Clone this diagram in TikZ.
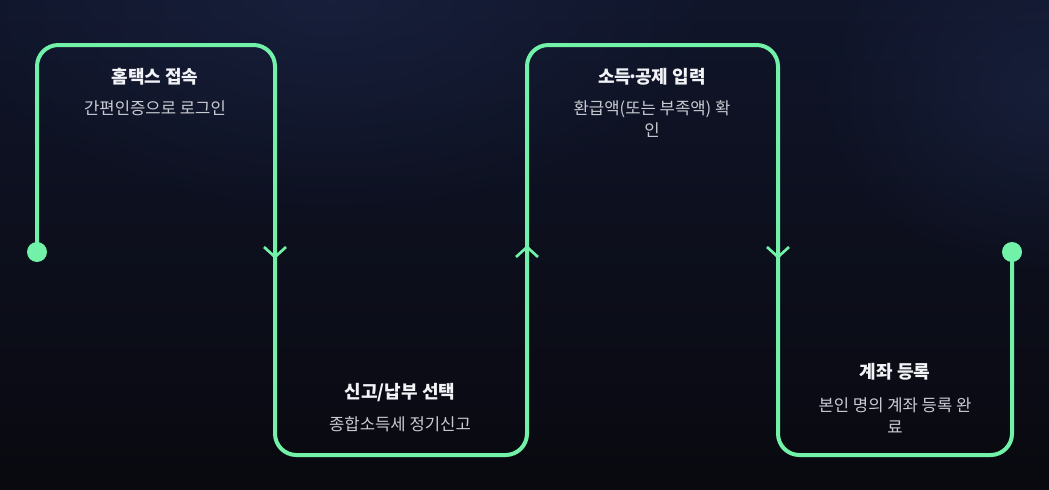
\documentclass[tikz,border=0pt]{standalone}
\usepackage{fontspec}
\newfontfamily\kr{Noto Sans CJK KR}
\usetikzlibrary{fadings}
\definecolor{flowgreen}{HTML}{72F2A9}
\definecolor{bgtop}{HTML}{10152A}
\definecolor{bgbot}{HTML}{09090F}
\definecolor{glow}{HTML}{1C2646}
\definecolor{titlecol}{HTML}{F2F3F7}
\definecolor{subcol}{HTML}{C9CBD2}
\tikzfading[name=glowfade, inner color=transparent!40, outer color=transparent!100]
\begin{document}
\begin{tikzpicture}[x=0.75pt,y=-0.75pt,
    flow/.style={draw=flowgreen, line width=3pt, rounded corners=16pt},
    enddot/.style={circle, fill=flowgreen, minimum size=15pt, inner sep=0pt},
    chev/.style={draw=flowgreen, line width=2pt},
    ttl/.style={font=\kr\bfseries\fontsize{13.5}{16}\selectfont, text=titlecol},
    subl/.style={font=\kr\fontsize{12.5}{16.5}\selectfont, text=subcol, align=center}
]
% background
\useasboundingbox (0,0) rectangle (1049,489);
\shade[top color=bgtop, bottom color=bgbot] (0,0) rectangle (1049,489);
\fill[glow, path fading=glowfade] (330,0) ellipse (400 and 220);
\fill[glow, path fading=glowfade] (1049,90) ellipse (240 and 190);

% end points
\node[enddot] (start) at (37,252) {};
\node[enddot] (finish) at (1012,252) {};

% snake line
\draw[flow] (start.center) -- (37,45) -- (275,45) -- (275,455) -- (527,455)
  -- (527,45) -- (778,45) -- (778,455) -- (1012,455) -- (finish.center);

% direction marks
\foreach \cx/\dir in {275/1, 527/-1, 778/1} {
  \draw[chev] (\cx-11,252-5*\dir) -- (\cx,252+5*\dir) -- (\cx+11,252-5*\dir);
}

% steps
\node[ttl] (t1) at (155,77) {홈택스 접속};
\node[subl] (s1) at (155,108) {간편인증으로 로그인};
\node[ttl] (t2) at (400,393) {신고/납부 선택};
\node[subl] (s2) at (400,424) {종합소득세 정기신고};
\node[ttl] (t3) at (652,77) {소득\kern-0.2em·\kern-0.2em공제 입력};
\node[subl, anchor=north] (s3) at (652,96) {환급액(또는 부족액) 확\\인};
\node[ttl] (t4) at (895,372) {계좌 등록};
\node[subl, anchor=north] (s4) at (895,393) {본인 명의 계좌 등록 완\\료};
\end{tikzpicture}
\end{document}
